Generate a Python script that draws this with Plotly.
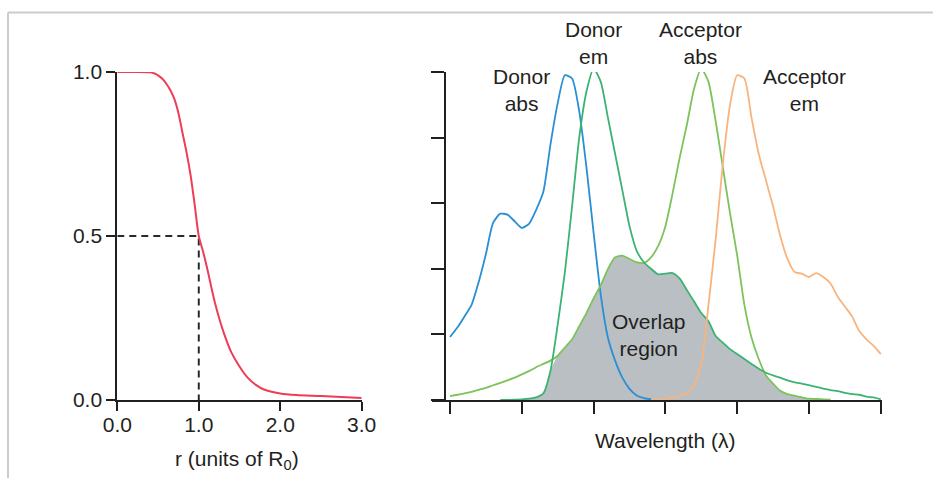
import numpy as np
import plotly.graph_objects as go

W, H = 933, 478

# ---- Left panel: transfer efficiency vs donor-acceptor distance ----
r_dist = [0.0, 0.2, 0.4, 0.45, 0.5, 0.55, 0.6, 0.65, 0.7, 0.75, 0.8, 0.85, 0.9,
          0.95, 1.0, 1.05, 1.1, 1.2, 1.3, 1.4, 1.5, 1.6, 1.7, 1.8, 2.0, 2.2,
          2.5, 3.0]
efficiency = [1.0, 1.0, 0.999, 0.996, 0.99, 0.98, 0.965, 0.945, 0.918, 0.875,
              0.815, 0.755, 0.685, 0.595, 0.5, 0.455, 0.405, 0.295, 0.21, 0.145,
              0.102, 0.068, 0.046, 0.032, 0.02, 0.015, 0.012, 0.006]
r0_point = 1.0
half_eff = 0.5
r_ticks = [0, 1, 2, 3]
r_ticktext = ["0.0", "1.0", "2.0", "3.0"]
e_ticks = [0, 0.5, 1]
e_ticktext = ["0.0", "0.5", "1.0"]

# ---- Right panel: spectra on a shared wavelength grid (nm) ----
wavelength = list(range(350, 655, 5))
N = None
donor_abs = [0.192, 0.22, 0.254, 0.29, 0.36, 0.445, 0.54, 0.568, 0.565, 0.545,
             0.525, 0.537, 0.58, 0.635, 0.78, 0.905, 0.99, 0.98, 0.88, 0.71,
             0.51, 0.32, 0.19, 0.12, 0.068, 0.034, 0.014, 0.006, 0.002] + [N] * 32
donor_em = [N] * 7 + [0.0, 0.0, 0.001, 0.002, 0.004, 0.008, 0.02, 0.09, 0.23,
             0.39, 0.59, 0.80, 0.94, 1.01, 0.97, 0.86, 0.75, 0.64, 0.53, 0.455,
             0.42, 0.40, 0.383, 0.385, 0.387, 0.37, 0.335, 0.30, 0.265, 0.24,
             0.195, 0.175, 0.155, 0.14, 0.125, 0.11, 0.095, 0.083, 0.075, 0.068,
             0.06, 0.054, 0.05, 0.045, 0.04, 0.035, 0.03, 0.027, 0.022, 0.018,
             0.016, 0.01, 0.008, 0.002]
acceptor_abs = [0.012, 0.016, 0.02, 0.025, 0.031, 0.037, 0.045, 0.052, 0.06,
                0.068, 0.078, 0.088, 0.10, 0.11, 0.12, 0.135, 0.16, 0.185, 0.225,
                0.265, 0.31, 0.35, 0.40, 0.435, 0.44, 0.43, 0.42, 0.418, 0.435,
                0.47, 0.53, 0.63, 0.74, 0.84, 0.95, 1.01, 0.97, 0.85, 0.71, 0.57,
                0.44, 0.29, 0.19, 0.125, 0.075, 0.05, 0.028, 0.018, 0.013, 0.008,
                0.004, 0.003, 0.002, 0.001] + [N] * 7
acceptor_em = [N] * 28 + [0.0, 0.001, 0.003, 0.007, 0.012, 0.021, 0.045, 0.11,
               0.29, 0.49, 0.72, 0.90, 0.99, 0.98, 0.86, 0.75, 0.67, 0.59, 0.50,
               0.43, 0.39, 0.385, 0.375, 0.387, 0.375, 0.355, 0.315, 0.285,
               0.255, 0.21, 0.185, 0.165, 0.14]
wl_ticks = [350, 400, 450, 500, 550, 600, 650]
intensity_ticks = [0, 0.2, 0.4, 0.6, 0.8, 1.0]

# spectral overlap: area under the lower of donor emission / acceptor absorption
de = np.array([np.nan if v is None else v for v in donor_em], dtype=float)
aa = np.array([np.nan if v is None else v for v in acceptor_abs], dtype=float)
both = ~np.isnan(de) & ~np.isnan(aa)
ov_x = np.array(wavelength)[both]
ov_y = np.minimum(de, aa)[both]

INK = "#231f20"
FONT = "Liberation Sans, Arial, Helvetica, sans-serif"
FS = 21

fig = go.Figure()

# left panel
fig.add_trace(go.Scatter(x=[0, r0_point, r0_point], y=[half_eff, half_eff, 0],
                         mode="lines", xaxis="x", yaxis="y",
                         line=dict(color="#2a2a2a", width=2, dash="7px,5px"),
                         hoverinfo="skip", cliponaxis=False))
fig.add_trace(go.Scatter(x=r_dist, y=efficiency, mode="lines", xaxis="x", yaxis="y",
                         line=dict(color="#ee3d55", width=2, shape="spline", smoothing=0.8),
                         cliponaxis=False))

# right panel
fig.add_trace(go.Scatter(x=ov_x, y=ov_y, mode="lines", xaxis="x2", yaxis="y2",
                         fill="tozeroy", fillcolor="#b9bfc2",
                         line=dict(width=0, shape="spline", smoothing=0.6),
                         hoverinfo="skip"))
spectra = [
    (donor_abs, "#2a8fd4"),
    (acceptor_abs, "#7cc35c"),
    (donor_em, "#3bb372"),
    (acceptor_em, "#f8b47e"),
]
for vals, col in spectra:
    fig.add_trace(go.Scatter(x=wavelength, y=vals, mode="lines", xaxis="x2", yaxis="y2",
                             line=dict(color=col, width=1.8, shape="spline", smoothing=0.6),
                             connectgaps=False, cliponaxis=False))

y_dom = [(H - 400) / H, (H - 72) / H]
axis_common = dict(showgrid=False, zeroline=False, showline=True, linewidth=2,
                   linecolor=INK, ticks="outside", tickwidth=2, tickcolor=INK,
                   automargin=False,
                   tickfont=dict(family=FONT, size=FS, color=INK))

x2_lo = 350 - (450 - 432) * 50 / 71.8
x2_hi = 350 + (882 - 450) * 50 / 71.8

fig.update_layout(
    template="none",
    width=W, height=H, autosize=False,
    margin=dict(l=0, r=0, t=0, b=0, pad=0, autoexpand=False),
    paper_bgcolor="white", plot_bgcolor="rgba(0,0,0,0)", showlegend=False,
    xaxis=dict(domain=[117.3 / W, 361.7 / W], range=[0, 3], anchor="y",
               tickvals=r_ticks, ticktext=r_ticktext, ticklen=9,
               ticklabelstandoff=-4, **axis_common),
    yaxis=dict(domain=y_dom, range=[0, 1], anchor="x",
               tickvals=e_ticks, ticktext=e_ticktext, ticklen=9, **axis_common),
    xaxis2=dict(domain=[432 / W, 882 / W], range=[x2_lo, x2_hi], anchor="y2",
                tickvals=wl_ticks, showticklabels=False, ticklen=12, **axis_common),
    yaxis2=dict(domain=y_dom, range=[0, 1], anchor="free", position=445 / W,
                tickvals=intensity_ticks, showticklabels=False, ticklen=13, **axis_common),
)

def ann(text, x, y, size=FS):
    fig.add_annotation(text=text, x=x / W, y=1 - y / H, xref="paper", yref="paper",
                       showarrow=False, xanchor="center", yanchor="middle",
                       font=dict(family=FONT, size=size, color=INK))

ann("Donor<br>abs", 521, 90)
ann("Donor<br>em", 593, 43)
ann("Acceptor<br>abs", 700, 43)
ann("Acceptor<br>em", 804, 90)
ann("Overlap<br>region", 649, 335)
ann("Wavelength (λ)", 665, 440)
ann("r (units of R<sub>0</sub>)", 237, 460)

# thin grey border along the top and left
fig.add_shape(type="line", xref="paper", yref="paper", x0=8 / W, x1=1, y0=1 - 12.5 / H,
              y1=1 - 12.5 / H, line=dict(color="#cccccc", width=2))
fig.add_shape(type="line", xref="paper", yref="paper", x0=8 / W, x1=8 / W, y0=0,
              y1=1 - 12.5 / H, line=dict(color="#cccccc", width=2))

# page without body margin so the figure sits flush in the window
fig.write_html(
    "out.html",
    config={"responsive": False},
    post_script="document.body.style.margin='0';document.body.style.padding='0';",
)
